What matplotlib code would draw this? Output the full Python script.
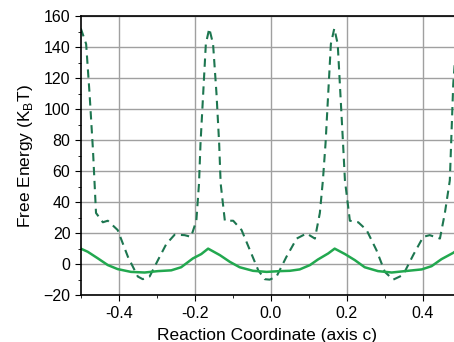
import matplotlib
matplotlib.use('Agg')
import matplotlib.pyplot as plt
from matplotlib.ticker import MultipleLocator

plt.rcParams['font.family'] = ['Liberation Sans', 'DejaVu Sans']

# dashed curve (upper, large barriers)
dash_x = [-0.5, -0.486, -0.477, -0.468, -0.46, -0.442, -0.429, -0.403, -0.376, -0.35,
          -0.337, -0.319, -0.297, -0.275, -0.253, -0.227, -0.21, -0.196, -0.189, -0.185,
          -0.178, -0.171, -0.162, -0.152, -0.143, -0.136, -0.132, -0.121, -0.099, -0.077,
          -0.055, -0.033, -0.016, -0.003, 0.015, 0.041, 0.068, 0.094, 0.116, 0.129,
          0.137, 0.144, 0.151, 0.158, 0.167, 0.176, 0.183, 0.19, 0.195, 0.208,
          0.23, 0.252, 0.278, 0.3, 0.322, 0.348, 0.375, 0.401, 0.418, 0.445,
          0.458, 0.471, 0.48, 0.49]
dash_y = [152, 142, 110, 73.5, 33, 27, 28, 22, 4.7, -8,
          -9.7, -8, 2.6, 13, 19, 18.7, 17.6, 28, 52, 78,
          110, 142, 152, 142, 110, 78, 52, 28, 28, 22,
          9, -4, -9.7, -10, -8, 4.7, 16.5, 19.8, 16.5, 33,
          54, 78, 110, 142, 152, 142, 110, 78, 54, 28,
          27, 22, 9, -5, -10, -7, 6, 17.6, 18.7, 16.5,
          33, 54, 116, 150]

# solid curve (lower)
solid_x = [-0.5, -0.482, -0.455, -0.429, -0.403, -0.368, -0.332, -0.297, -0.262, -0.236,
           -0.205, -0.183, -0.165, -0.134, -0.108, -0.082, -0.047, -0.011, 0.024, 0.05,
           0.076, 0.103, 0.124, 0.151, 0.168, 0.195, 0.221, 0.247, 0.282, 0.318,
           0.353, 0.397, 0.423, 0.449, 0.48, 0.49]
solid_y = [10, 8, 3.7, -0.6, -3.2, -5, -5.4, -4.5, -4, -2,
           3.7, 6.5, 10, 5.8, 1.5, -2, -4.3, -5, -4.5, -4.3,
           -3.4, -0.6, 3, 6.9, 10, 6.5, 2.6, -2, -4.5, -5.4,
           -4.5, -3.4, -1.3, 3.2, 7.3, 9]

fig = plt.figure(figsize=(4.54, 3.42), dpi=100)
ax = fig.add_axes([0.178, 0.137, 0.822, 0.816])

ax.plot(dash_x, dash_y, '--', color='#1d7650', lw=1.5, dashes=(4, 2.7))
ax.plot(solid_x, solid_y, '-', color='#22a84f', lw=1.8)

ax.set_xlim(-0.5, 0.482)
ax.set_ylim(-20, 160)
ax.xaxis.set_major_locator(MultipleLocator(0.2))
ax.xaxis.set_minor_locator(MultipleLocator(0.1))
ax.yaxis.set_major_locator(MultipleLocator(20))
ax.yaxis.set_minor_locator(MultipleLocator(10))
ax.set_xticks([-0.4, -0.2, 0.0, 0.2, 0.4])
ax.set_xticklabels(['-0.4', '-0.2', '0.0', '0.2', '0.4'])
ax.tick_params(which='both', direction='out', labelsize=11.5)
ax.tick_params(which='major', length=4)
ax.tick_params(which='minor', length=2.5)
ax.tick_params(top=False, right=False)
ax.grid(True, which='major', color='#a0a0a0', lw=1)
ax.spines['right'].set_visible(False)
for s in ['left', 'bottom', 'top']:
    ax.spines[s].set_linewidth(1.2)

ax.set_xlabel('Reaction Coordinate (axis c)', fontsize=12.5, labelpad=5)
ax.set_ylabel('Free Energy (K$_\\mathregular{B}$T)', fontsize=12.5, labelpad=6)

fig.savefig('out.png', dpi=100)
